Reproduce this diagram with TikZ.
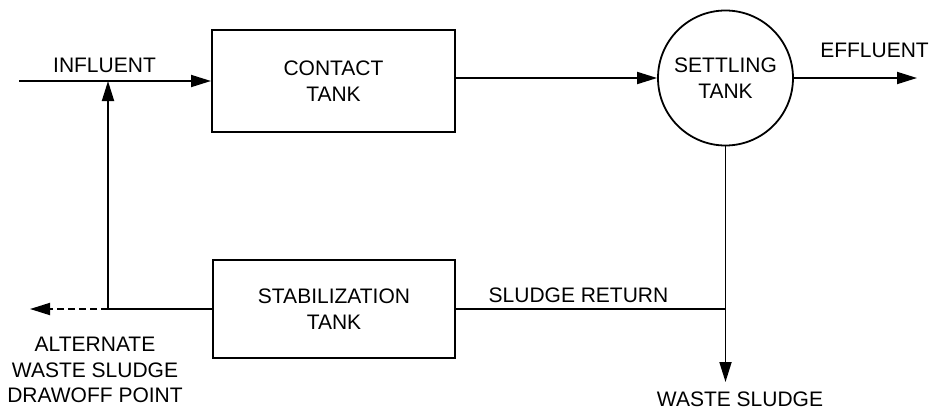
\documentclass[tikz,border=0pt]{standalone}
\usepackage{fontspec}
\setmainfont{Liberation Sans}
\usetikzlibrary{arrows.meta,positioning,calc}

\begin{document}
\begin{tikzpicture}[x=1pt, y=-1pt, every node/.style={font=\fontsize{21}{25.5}\selectfont}]
\tikzset{
    tank/.style={draw, line width=2pt, align=center, inner sep=0pt},
    flow/.style={line width=1.8pt, -{Triangle[length=20pt, width=12pt]}},
    plainline/.style={line width=1.8pt},
    labelnode/.style={inner sep=0pt, align=center}
}
\useasboundingbox (0,0) rectangle (934,410);

% Tanks
\node[tank, minimum width=243pt, minimum height=102pt] (contact) at (333.5,81) {CONTACT\\TANK};
\node[tank, circle, minimum size=135pt, line width=1.8pt] (settle) at (725.5,78) {SETTLING\\TANK};
\node[tank, minimum width=242pt, minimum height=98pt] (stab) at (334,309) {STABILIZATION\\TANK};

% Free ends and junctions
\coordinate (in) at (19,81);
\coordinate (eff) at (917,78);
\coordinate (waste) at (725.5,382);
\coordinate (split) at (settle.south |- stab.east);
\coordinate (ret) at (108,309);
\coordinate (merge) at (ret |- contact.west);
\coordinate (alt) at (30,309);

% Main flow
\draw[flow] (in) -- (contact.west);
\draw[flow] (contact.east |- settle.west) -- (settle.west);
\draw[flow] (settle.east) -- (eff);

% Sludge lines
\draw[flow] (settle.south) -- (waste);
\draw[plainline] (split) -- (stab.east);
\draw[plainline] (stab.west) -- (ret);
\draw[flow] (ret) -- (merge);
\draw[flow, dash pattern=on 7pt off 4pt] (ret) -- (alt);

% Labels
\node[labelnode, anchor=base] (inlbl) at (104.5,72) {INFLUENT};
\node[labelnode, anchor=base] (efflbl) at (874.5,57) {EFFLUENT};
\node[labelnode, anchor=base] (retlbl) at (578.5,302) {SLUDGE RETURN};
\node[labelnode, anchor=base] (wastelbl) at (740,406) {WASTE SLUDGE};
\node[labelnode, anchor=north] (altlbl) at (95,337) {ALTERNATE\\WASTE SLUDGE\\DRAWOFF POINT};

\end{tikzpicture}
\end{document}
